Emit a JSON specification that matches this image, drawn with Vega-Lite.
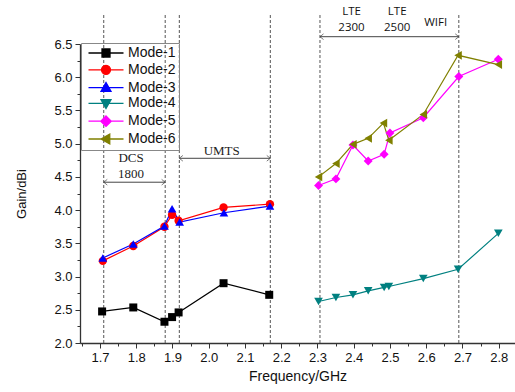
{
  "$schema": "https://vega.github.io/schema/vega-lite/v6.json",
  "width": 435,
  "height": 299,
  "autosize": {"type": "none"},
  "padding": {"left": 80, "top": 44, "right": 0, "bottom": 49},
  "background": "white",
  "config": {"view": {"stroke": null}, "font": "Liberation Sans"},
  "datasets": {
    "pts": [
      {"mode": "Mode-1", "f": 1.706, "g": 2.475},
      {"mode": "Mode-1", "f": 1.792, "g": 2.535},
      {"mode": "Mode-1", "f": 1.878, "g": 2.32},
      {"mode": "Mode-1", "f": 1.899, "g": 2.39},
      {"mode": "Mode-1", "f": 1.917, "g": 2.46},
      {"mode": "Mode-1", "f": 2.041, "g": 2.9},
      {"mode": "Mode-1", "f": 2.167, "g": 2.725},
      {"mode": "Mode-2", "f": 1.708, "g": 3.236},
      {"mode": "Mode-2", "f": 1.792, "g": 3.46},
      {"mode": "Mode-2", "f": 1.878, "g": 3.75},
      {"mode": "Mode-2", "f": 1.899, "g": 3.93},
      {"mode": "Mode-2", "f": 1.917, "g": 3.84},
      {"mode": "Mode-2", "f": 2.041, "g": 4.04},
      {"mode": "Mode-2", "f": 2.169, "g": 4.09},
      {"mode": "Mode-3", "f": 1.708, "g": 3.28},
      {"mode": "Mode-3", "f": 1.792, "g": 3.49},
      {"mode": "Mode-3", "f": 1.878, "g": 3.76},
      {"mode": "Mode-3", "f": 1.899, "g": 4.02},
      {"mode": "Mode-3", "f": 1.92, "g": 3.82},
      {"mode": "Mode-3", "f": 2.042, "g": 3.96},
      {"mode": "Mode-3", "f": 2.169, "g": 4.06},
      {"mode": "Mode-4", "f": 2.303, "g": 2.625},
      {"mode": "Mode-4", "f": 2.351, "g": 2.685},
      {"mode": "Mode-4", "f": 2.398, "g": 2.725},
      {"mode": "Mode-4", "f": 2.44, "g": 2.785},
      {"mode": "Mode-4", "f": 2.484, "g": 2.836},
      {"mode": "Mode-4", "f": 2.497, "g": 2.85},
      {"mode": "Mode-4", "f": 2.592, "g": 2.97},
      {"mode": "Mode-4", "f": 2.688, "g": 3.11},
      {"mode": "Mode-4", "f": 2.799, "g": 3.65},
      {"mode": "Mode-5", "f": 2.303, "g": 4.37},
      {"mode": "Mode-5", "f": 2.351, "g": 4.47},
      {"mode": "Mode-5", "f": 2.398, "g": 4.98},
      {"mode": "Mode-5", "f": 2.44, "g": 4.74},
      {"mode": "Mode-5", "f": 2.484, "g": 4.84},
      {"mode": "Mode-5", "f": 2.5, "g": 5.16},
      {"mode": "Mode-5", "f": 2.592, "g": 5.39},
      {"mode": "Mode-5", "f": 2.69, "g": 6.01},
      {"mode": "Mode-5", "f": 2.799, "g": 6.27},
      {"mode": "Mode-6", "f": 2.303, "g": 4.5},
      {"mode": "Mode-6", "f": 2.351, "g": 4.7},
      {"mode": "Mode-6", "f": 2.398, "g": 4.99},
      {"mode": "Mode-6", "f": 2.44, "g": 5.08},
      {"mode": "Mode-6", "f": 2.482, "g": 5.31},
      {"mode": "Mode-6", "f": 2.497, "g": 5.05},
      {"mode": "Mode-6", "f": 2.592, "g": 5.44},
      {"mode": "Mode-6", "f": 2.688, "g": 6.33},
      {"mode": "Mode-6", "f": 2.799, "g": 6.19}
    ],
    "vlines": [
      {"f": 1.7105, "lo": 2, "hi": 6.96},
      {"f": 1.88, "lo": 2, "hi": 6.96},
      {"f": 1.919, "lo": 2, "hi": 6.96},
      {"f": 2.17, "lo": 2, "hi": 6.96},
      {"f": 2.307, "lo": 2, "hi": 6.96},
      {"f": 2.69, "lo": 2, "hi": 6.96}
    ],
    "arrows": [
      {"f1": 1.7105, "f2": 1.88, "g": 4.42},
      {"f1": 1.919, "f2": 2.17, "g": 4.78},
      {"f1": 2.307, "f2": 2.69, "g": 6.61}
    ],
    "labels": [
      {"kind": "serif", "text": "DCS", "f": 1.786, "g": 4.79},
      {"kind": "serif", "text": "1800", "f": 1.786, "g": 4.55},
      {"kind": "serif", "text": "UMTS", "f": 2.036, "g": 4.89},
      {"kind": "sans", "text": "LTE", "f": 2.394, "g": 6.975},
      {"kind": "sans", "text": "2300", "f": 2.394, "g": 6.745},
      {"kind": "sans", "text": "LTE", "f": 2.52, "g": 6.975},
      {"kind": "sans", "text": "2500", "f": 2.52, "g": 6.745},
      {"kind": "sans", "text": "WIFI", "f": 2.626, "g": 6.81}
    ]
  },
  "resolve": {"axis": {"x": "independent", "y": "independent"}},
  "layer": [
    {
      "data": {"name": "vlines"},
      "mark": {"type": "rule", "color": "#555", "strokeDash": [3, 2], "strokeWidth": 1, "clip": false},
      "encoding": {
        "x": {"field": "f", "type": "quantitative", "scale": {"domain": [1.645, 2.845], "nice": false, "zero": false},
          "axis": {"orient": "bottom", "values": [1.65, 1.75, 1.85, 1.95, 2.05, 2.15, 2.25, 2.35, 2.45, 2.55, 2.65, 2.75, 2.85], "labels": false, "domain": false, "grid": false, "tickSize": 3, "tickColor": "#333", "title": null}},
        "y": {"field": "lo", "type": "quantitative", "scale": {"domain": [2, 6.5], "nice": false, "zero": false},
          "axis": {"orient": "left", "values": [2.25, 2.75, 3.25, 3.75, 4.25, 4.75, 5.25, 5.75, 6.25], "labels": false, "domain": false, "grid": false, "tickSize": 3, "tickColor": "#333", "title": null}},
        "y2": {"field": "hi"}
      }
    },
    {
      "data": {"name": "arrows"},
      "mark": {"type": "rule", "color": "#444", "strokeWidth": 1, "clip": false},
      "encoding": {
        "x": {"field": "f1", "type": "quantitative", "axis": null},
        "x2": {"field": "f2"},
        "y": {"field": "g", "type": "quantitative", "axis": null}
      }
    },
    {
      "data": {"name": "arrows"},
      "mark": {"type": "point", "shape": "M1,-0.8L0,0L1,0.8", "filled": false, "stroke": "#444", "strokeWidth": 1, "size": 50, "clip": false},
      "encoding": {
        "x": {"field": "f1", "type": "quantitative", "axis": null},
        "y": {"field": "g", "type": "quantitative", "axis": null}
      }
    },
    {
      "data": {"name": "arrows"},
      "mark": {"type": "point", "shape": "M-1,-0.8L0,0L-1,0.8", "filled": false, "stroke": "#444", "strokeWidth": 1, "size": 50, "clip": false},
      "encoding": {
        "x": {"field": "f2", "type": "quantitative", "axis": null},
        "y": {"field": "g", "type": "quantitative", "axis": null}
      }
    },
    {
      "data": {"name": "labels"},
      "transform": [{"filter": "datum.kind === 'serif'"}],
      "mark": {"type": "text", "font": "Liberation Serif", "fontSize": 13, "color": "#222", "clip": false},
      "encoding": {
        "x": {"field": "f", "type": "quantitative", "axis": null},
        "y": {"field": "g", "type": "quantitative", "axis": null},
        "text": {"field": "text"}
      }
    },
    {
      "data": {"name": "labels"},
      "transform": [{"filter": "datum.kind === 'sans'"}],
      "mark": {"type": "text", "font": "Open Sans", "fontSize": 11.5, "color": "#111", "clip": false},
      "encoding": {
        "x": {"field": "f", "type": "quantitative", "axis": null},
        "y": {"field": "g", "type": "quantitative", "axis": null},
        "text": {"field": "text"}
      }
    },
    {
      "data": {"name": "pts"},
      "mark": {"type": "line", "strokeWidth": 1.2},
      "encoding": {
        "x": {"field": "f", "type": "quantitative",
          "axis": {"orient": "bottom", "values": [1.7, 1.8, 1.9, 2.0, 2.1, 2.2, 2.3, 2.4, 2.5, 2.6, 2.7, 2.8], "format": ".1f", "grid": false, "tickSize": 5, "tickColor": "#333", "domainColor": "#333", "domainWidth": 1.3, "labelFontSize": 13, "labelColor": "#111", "labelPadding": 3, "title": "Frequency/GHz", "titleFontSize": 14, "titleFontWeight": "normal", "titleColor": "#111", "titlePadding": 5}},
        "y": {"field": "g", "type": "quantitative",
          "axis": {"orient": "left", "values": [2.0, 2.5, 3.0, 3.5, 4.0, 4.5, 5.0, 5.5, 6.0, 6.5], "format": ".1f", "grid": false, "tickSize": 5, "tickColor": "#333", "domainColor": "#333", "domainWidth": 1.3, "labelFontSize": 13, "labelColor": "#111", "labelPadding": 3, "title": "Gain/dBi", "titleFontSize": 13, "titleFontWeight": "normal", "titleColor": "#111", "titlePadding": 25}},
        "color": {"field": "mode", "type": "nominal",
          "scale": {"domain": ["Mode-1", "Mode-2", "Mode-3", "Mode-4", "Mode-5", "Mode-6"], "range": ["#000000", "#ff0000", "#0000ff", "#008080", "#ff00ff", "#808000"]},
          "legend": {"orient": "none", "legendX": 1, "legendY": -1, "title": null, "symbolType": "M-0.5,0H6.5", "symbolSize": 100, "symbolStrokeWidth": 1.3, "labelFontSize": 14, "labelColor": "#111", "labelOffset": 30, "strokeColor": "#888", "padding": 3, "rowPadding": 1.8,
            "encode": {"symbols": {"update": {
              "shape": {"signal": "datum.value === 'Mode-1' ? 'M-0.5,0H6.5M2.2,-0.8H3.8V0.8H2.2Z' : datum.value === 'Mode-2' ? 'M-0.5,0H6.5M2.1,0A0.9,0.9 0 1,0 3.9,0A0.9,0.9 0 1,0 2.1,0Z' : datum.value === 'Mode-3' ? 'M-0.5,0H6.5M3,-1L4,0.75H2Z' : datum.value === 'Mode-4' ? 'M-0.5,0H6.5M3,1L4,-0.75H2Z' : datum.value === 'Mode-5' ? 'M-0.5,0H6.5M3,-1.05L4.05,0L3,1.05L1.95,0Z' : 'M-0.5,0H6.5M2,0L3.75,-1V1Z'"},
              "fill": {"scale": "color", "field": "value"},
              "stroke": {"scale": "color", "field": "value"}
            }}}}
        }
      }
    },
    {"data": {"name": "pts"}, "transform": [{"filter": "datum.mode === 'Mode-1'"}],
     "mark": {"type": "point", "shape": "square", "filled": true, "size": 64, "opacity": 1, "color": "#000000"},
     "encoding": {"x": {"field": "f", "type": "quantitative", "axis": null}, "y": {"field": "g", "type": "quantitative", "axis": null}}},
    {"data": {"name": "pts"}, "transform": [{"filter": "datum.mode === 'Mode-2'"}],
     "mark": {"type": "point", "shape": "circle", "filled": true, "size": 70, "opacity": 1, "color": "#ff0000"},
     "encoding": {"x": {"field": "f", "type": "quantitative", "axis": null}, "y": {"field": "g", "type": "quantitative", "axis": null}}},
    {"data": {"name": "pts"}, "transform": [{"filter": "datum.mode === 'Mode-3'"}],
     "mark": {"type": "point", "shape": "triangle-up", "filled": true, "size": 75, "opacity": 1, "color": "#0000ff"},
     "encoding": {"x": {"field": "f", "type": "quantitative", "axis": null}, "y": {"field": "g", "type": "quantitative", "axis": null}}},
    {"data": {"name": "pts"}, "transform": [{"filter": "datum.mode === 'Mode-4'"}],
     "mark": {"type": "point", "shape": "triangle-down", "filled": true, "size": 75, "opacity": 1, "color": "#008080"},
     "encoding": {"x": {"field": "f", "type": "quantitative", "axis": null}, "y": {"field": "g", "type": "quantitative", "axis": null}}},
    {"data": {"name": "pts"}, "transform": [{"filter": "datum.mode === 'Mode-5'"}],
     "mark": {"type": "point", "shape": "diamond", "filled": true, "size": 80, "opacity": 1, "color": "#ff00ff"},
     "encoding": {"x": {"field": "f", "type": "quantitative", "axis": null}, "y": {"field": "g", "type": "quantitative", "axis": null}}},
    {"data": {"name": "pts"}, "transform": [{"filter": "datum.mode === 'Mode-6'"}],
     "mark": {"type": "point", "shape": "triangle-left", "filled": true, "size": 75, "opacity": 1, "color": "#808000"},
     "encoding": {"x": {"field": "f", "type": "quantitative", "axis": null}, "y": {"field": "g", "type": "quantitative", "axis": null}}}
  ]
}
